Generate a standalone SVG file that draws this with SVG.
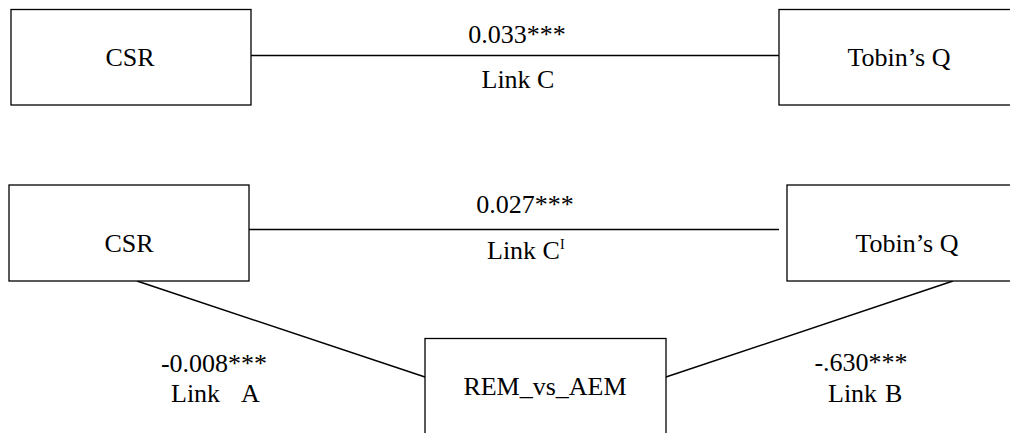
<svg xmlns="http://www.w3.org/2000/svg" width="1010" height="433" viewBox="0 0 1010 433">
<style>
.box{fill:#fff;stroke:#000;stroke-width:1.3}
.ln{stroke:#000;stroke-width:1.4;fill:none}
text{font-family:'Liberation Serif','DejaVu Serif',serif;font-size:26px;fill:#000}
.m{text-anchor:middle}
</style>
<rect width="1010" height="433" fill="#fff"/>
<g id="connectors">
<line class="ln" x1="251" y1="55.5" x2="779" y2="55.5"/>
<line class="ln" x1="249" y1="229.5" x2="779" y2="229.5"/>
<line class="ln" x1="137" y1="281" x2="425" y2="377"/>
<line class="ln" x1="953" y1="281" x2="666" y2="377"/>
<text class="m" x="517" y="43">0.033***</text>
<text class="m" x="518" y="88">Link C</text>
<text class="m" x="525" y="213">0.027***</text>
<text x="487" y="259">Link C<tspan font-size="14" dy="-10">I</tspan></text>
<text class="m" x="214" y="372">-0.008***</text>
<text x="171" y="402">Link</text><text x="241" y="402">A</text>
<text class="m" x="861" y="371">-.630***</text>
<text x="828" y="402">Link</text><text x="885" y="402">B</text>
</g>
<g id="csr-top"><rect class="box" x="11" y="9.5" width="240" height="95.5"/><text class="m" x="130" y="66">CSR</text></g>
<g id="tobin-top"><rect class="box" x="779" y="9.5" width="240" height="95.5"/><text class="m" x="899" y="66">Tobin’s Q</text></g>
<g id="csr-bottom"><rect class="box" x="9" y="185" width="240" height="96"/><text class="m" x="129" y="252">CSR</text></g>
<g id="tobin-bottom"><rect class="box" x="787" y="185" width="240" height="96"/><text class="m" x="907" y="252">Tobin’s Q</text></g>
<g id="rem-vs-aem"><rect class="box" x="425" y="338.5" width="241" height="110"/><text class="m" x="545" y="395">REM_vs_AEM</text></g>
</svg>
